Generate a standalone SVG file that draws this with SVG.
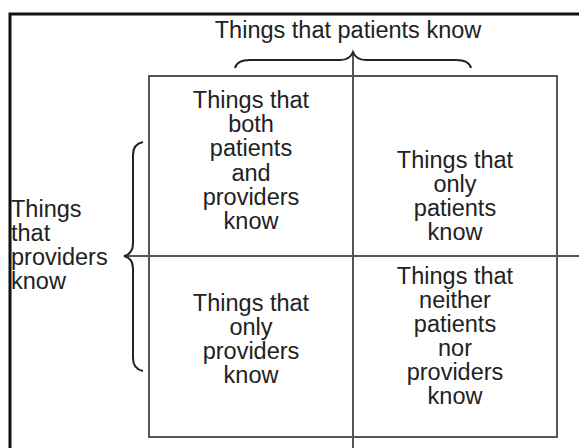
<svg xmlns="http://www.w3.org/2000/svg" width="579" height="448" viewBox="0 0 579 448">
<style>
.t{font-family:"Liberation Sans",Arial,sans-serif;font-size:23.5px;fill:#222;}
.c{text-anchor:middle;}
.ln{stroke:#555;stroke-width:2;fill:none;}
.br{stroke:#222;stroke-width:2;fill:none;}
</style>
<rect width="579" height="448" fill="#fff"/>
<path d="M10,448 L10,14 L579,14" stroke="#111" stroke-width="3" fill="none"/>
<g id="connectors">
<rect class="ln" x="149" y="76" width="408" height="361"/>
<line class="ln" x1="353" y1="53" x2="353" y2="448"/>
<line class="ln" x1="124" y1="256" x2="579" y2="256"/>
<path class="br" d="M235,68 Q237,60 250,60 L340,60 Q350,60 353,52 Q356,60 366,60 L456,60 Q469,60 471,68"/>
<path class="br" d="M143,142 Q133,144 133,155 L133,243 Q133,254 124,256 Q133,258 133,269 L133,358 Q133,369 143,371"/>
</g>
<g id="title"><text class="t c" x="348" y="38">Things that patients know</text></g>
<g id="left-label">
<text class="t" x="11" y="217">Things</text>
<text class="t" x="11" y="241">that</text>
<text class="t" x="11" y="265">providers</text>
<text class="t" x="11" y="289">know</text>
</g>
<g id="cell-both">
<text class="t c" x="251" y="108">Things that</text>
<text class="t c" x="251" y="132">both</text>
<text class="t c" x="251" y="156">patients</text>
<text class="t c" x="251" y="181">and</text>
<text class="t c" x="251" y="205">providers</text>
<text class="t c" x="251" y="229">know</text>
</g>
<g id="cell-patients">
<text class="t c" x="455" y="168">Things that</text>
<text class="t c" x="455" y="192">only</text>
<text class="t c" x="455" y="216">patients</text>
<text class="t c" x="455" y="240">know</text>
</g>
<g id="cell-providers">
<text class="t c" x="251" y="311">Things that</text>
<text class="t c" x="251" y="335">only</text>
<text class="t c" x="251" y="359">providers</text>
<text class="t c" x="251" y="383">know</text>
</g>
<g id="cell-neither">
<text class="t c" x="455" y="284">Things that</text>
<text class="t c" x="455" y="308">neither</text>
<text class="t c" x="455" y="332">patients</text>
<text class="t c" x="455" y="356">nor</text>
<text class="t c" x="455" y="380">providers</text>
<text class="t c" x="455" y="404">know</text>
</g>
</svg>
